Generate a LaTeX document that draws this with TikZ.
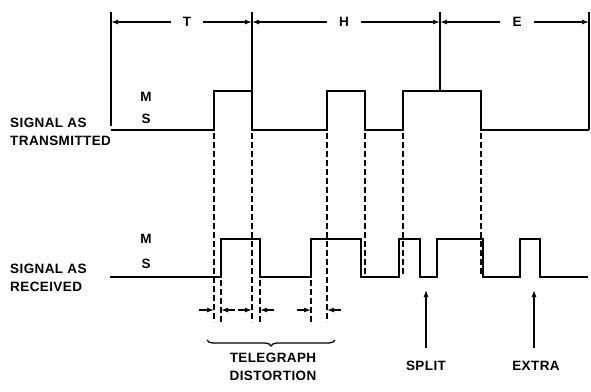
\documentclass[tikz,border=0pt]{standalone}
\usepackage{fontspec}
\setmainfont{Liberation Sans}[LetterSpace=3]
\usetikzlibrary{arrows.meta,decorations.pathreplacing}
\begin{document}
\begin{tikzpicture}[x=1pt,y=-1pt,
  sig/.style={line width=2pt},
  dim/.style={line width=1.4pt},
  dsh/.style={line width=1.6pt,dash pattern=on 6pt off 3pt},
  arr/.style={line width=1.3pt,-{Latex[length=7pt,width=5pt]}},
  lab/.style={font=\bfseries\fontsize{13.5}{18}\selectfont,inner sep=0pt},
  lv/.style={font=\bfseries\fontsize{13.5}{18}\selectfont,inner sep=0pt}]
\useasboundingbox (0,0) rectangle (591,391);
% top dimension line
\draw[dim] (111,12) -- (111,126);
\draw[dim] (252,12) -- (252,130);
\draw[dim] (440,12) -- (440,91);
\draw[dim] (589,12) -- (589,130);
\node[lab] (T) at (187,22) {T};
\node[lab] (H) at (344,22) {H};
\node[lab] (E) at (517,22) {E};
\coordinate (d0) at (111,22);
\coordinate (d1) at (252,22);
\coordinate (d2) at (440,22);
\coordinate (d3) at (589,22);
\draw[arr] (T.west) ++(-12,0) -- (d0);
\draw[arr] (T.east) ++(12,0) -- (d1);
\draw[arr] (H.west) ++(-12,0) -- (d1);
\draw[arr] (H.east) ++(12,0) -- (d2);
\draw[arr] (E.west) ++(-12,0) -- (d2);
\draw[arr] (E.east) ++(12,0) -- (d3);
% transmitted signal
\draw[sig] (111,130) -- (214,130) -- (214,91) -- (252,91) -- (252,130) -- (327,130) -- (327,91)
  -- (365,91) -- (365,130) -- (403,130) -- (403,91) -- (481,91) -- (481,130) -- (589,130);
% received signal
\draw[sig] (110,277) -- (221,277) -- (221,239) -- (260,239) -- (260,277) -- (311,277) -- (311,239)
  -- (361,239) -- (361,277) -- (399,277) -- (399,239) -- (420,239) -- (420,277) -- (437,277)
  -- (437,239) -- (483,239) -- (483,277) -- (520,277) -- (520,239) -- (540,239) -- (540,277) -- (588,277);
% dashed projections
\draw[dsh] (214,133) -- (214,322);
\draw[dsh] (252,133) -- (252,322);
\draw[dsh] (327,133) -- (327,322);
\draw[dsh] (365,133) -- (365,276);
\draw[dsh] (403,133) -- (403,276);
\draw[dsh] (481,133) -- (481,276);
\draw[dsh] (221,280) -- (221,322);
\draw[dsh] (260,280) -- (260,322);
\draw[dsh] (311,280) -- (311,322);
% distortion arrows
\draw[arr] (199,310) -- (214,310);
\draw[arr] (235,310) -- (221,310);
\draw[arr] (238,310) -- (252,310);
\draw[arr] (274,310) -- (260,310);
\draw[arr] (297,310) -- (311,310);
\draw[arr] (341,310) -- (327,310);
% brace
\draw[line width=1.3pt,decorate,decoration={brace,mirror,amplitude=6pt}] (207,340) -- (335,340);
\node[lab,align=center] (TD) at (273,367) {TELEGRAPH\\DISTORTION};
% split and extra
\node[lab] (SP) at (426,366) {SPLIT};
\node[lab] (EX) at (536,366) {EXTRA};
\coordinate (spt) at (426,290);
\coordinate (ext) at (534,290);
\draw[arr] (426,348) -- (spt);
\draw[arr] (534,348) -- (ext);
% left labels
\node[lab,align=left,anchor=west] (ST) at (10,132) {SIGNAL AS\\TRANSMITTED};
\node[lab,align=left,anchor=west] (SR) at (10,278) {SIGNAL AS\\RECEIVED};
\node[lv] (M1) at (146,97) {M};
\node[lv] (S1) at (146,119) {S};
\node[lv] (M2) at (146,239) {M};
\node[lv] (S2) at (146,264) {S};
\end{tikzpicture}
\end{document}
